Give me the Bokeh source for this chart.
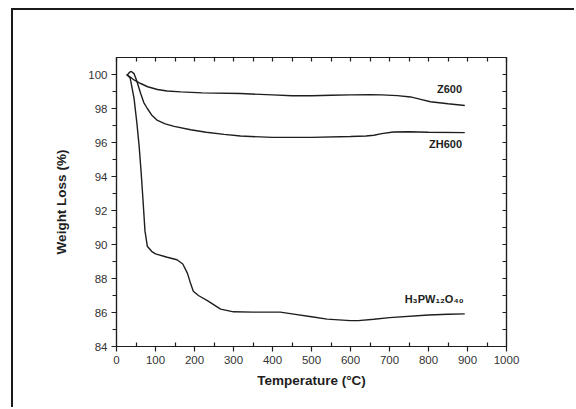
from bokeh.plotting import figure
from bokeh.models import LinearAxis, FixedTicker, Range1d, CustomJSTickFormatter
from bokeh.core.properties import value
from bokeh.embed import file_html
from bokeh.resources import INLINE

# ---- data ----
temp_z600 = [26, 35, 45, 62, 80, 105, 130, 165, 220, 318, 400, 450, 500, 550, 600, 650, 680, 720, 754, 780, 805, 850, 893]
wl_z600 = [100.0, 99.85, 99.68, 99.47, 99.28, 99.12, 99.03, 98.98, 98.92, 98.88, 98.8, 98.75, 98.75, 98.78, 98.8, 98.81, 98.8, 98.76, 98.68, 98.54, 98.4, 98.28, 98.18]

temp_zh600 = [27, 33, 38, 45, 50, 54, 62, 70, 79, 90, 105, 125, 148, 190, 230, 276, 318, 400, 500, 600, 640, 660, 680, 710, 750, 800, 893]
wl_zh600 = [99.95, 100.12, 100.18, 100.05, 99.75, 99.47, 98.88, 98.35, 98.0, 97.62, 97.3, 97.1, 96.95, 96.75, 96.6, 96.48, 96.38, 96.3, 96.3, 96.35, 96.38, 96.43, 96.52, 96.62, 96.63, 96.6, 96.58]

temp_hpw = [26, 35, 45, 52, 58, 63, 68, 73, 79, 90, 100, 130, 155, 170, 182, 190, 197, 210, 233, 267, 300, 350, 420, 450, 500, 540, 600, 620, 660, 700, 800, 850, 893]
wl_hpw = [100.0, 99.8, 98.6, 97.2, 95.8, 94.3, 92.6, 90.8, 89.9, 89.6, 89.45, 89.25, 89.1, 88.85, 88.3, 87.7, 87.25, 87.0, 86.7, 86.2, 86.04, 86.02, 86.02, 85.92, 85.75, 85.61, 85.52, 85.52, 85.6, 85.7, 85.85, 85.9, 85.92]

series_names = ["Z600", "ZH600", "H\u2083PW\u2081\u2082O\u2084\u2080"]

x_major = list(range(0, 1001, 100))
x_minor = list(range(50, 1000, 100))
x_top = list(range(0, 1001, 50))
y_major = list(range(84, 101, 2))
y_minor = list(range(85, 100, 2))
y_right = list(range(84, 101, 1))

# label anchors (layout)
label_x = [886, 886, 890]
label_y = [99.12, 95.93, 86.82]

FONT = "Liberation Sans"
INK = "#1e1e1e"

p = figure(width=563, height=399,
           x_range=Range1d(0, 1000), y_range=Range1d(84, 101),
           output_backend="svg", toolbar_location=None,
           min_border_left=103, min_border_right=70,
           min_border_top=47, min_border_bottom=63)
# outer page frame: only its top and left edges fall inside the window
p.styles = {"margin-left": "11px", "margin-top": "8px",
            "border-top": "2px solid #1a1a1a",
            "border-left": "2px solid #1a1a1a"}

p.xgrid.grid_line_color = None
p.ygrid.grid_line_color = None
p.outline_line_color = INK
p.outline_line_width = 1.2
p.background_fill_color = "white"
p.border_fill_color = "white"

xax = p.below[0]
yax = p.left[0]
for ax in (xax, yax):
    ax.axis_line_color = INK
    ax.axis_line_width = 1.2
    ax.major_tick_line_color = INK
    ax.minor_tick_line_color = INK
    ax.major_tick_line_width = 1.2
    ax.minor_tick_line_width = 1.2
    ax.major_label_text_font = FONT
    ax.major_label_text_font_size = "11.5px"
    ax.major_label_text_color = "#333333"
    ax.axis_label_text_font = FONT
    ax.axis_label_text_font_style = "bold"
    ax.axis_label_text_font_size = "13.5px"
    ax.axis_label_text_color = INK
    ax.major_label_standoff = 4

xax.ticker = FixedTicker(ticks=x_major, minor_ticks=x_minor)
xax.major_tick_out = 5
xax.major_tick_in = 0
xax.minor_tick_in = 4
xax.minor_tick_out = 0
xax.axis_label = "Temperature (°C)"
xax.axis_label_standoff = 6

yax.ticker = FixedTicker(ticks=y_major, minor_ticks=y_minor)
yax.major_tick_out = 5
yax.major_tick_in = 0
yax.minor_tick_out = 4
yax.minor_tick_in = 0
yax.axis_label = "Weight Loss (%)"
yax.axis_label_standoff = 16

blank = CustomJSTickFormatter(code="return '';")
top_ax = LinearAxis(ticker=FixedTicker(ticks=x_top, minor_ticks=[]),
                    formatter=blank,
                    major_tick_in=4, major_tick_out=0,
                    minor_tick_in=0, minor_tick_out=0,
                    major_label_standoff=0,
                    axis_line_color=INK, axis_line_width=1.2,
                    major_tick_line_color=INK, major_tick_line_width=1.2)
right_ax = LinearAxis(ticker=FixedTicker(ticks=y_right, minor_ticks=[]),
                      formatter=blank,
                      major_tick_in=4, major_tick_out=0,
                      minor_tick_in=0, minor_tick_out=0,
                      major_label_standoff=0,
                      axis_line_color=INK, axis_line_width=1.2,
                      major_tick_line_color=INK, major_tick_line_width=1.2)
p.add_layout(top_ax, "above")
p.add_layout(right_ax, "right")

for t, w in ((temp_z600, wl_z600), (temp_zh600, wl_zh600), (temp_hpw, wl_hpw)):
    p.line(t, w, line_color=INK, line_width=1.4)

p.text(x=label_x, y=label_y, text=series_names,
       text_align="right", text_baseline="middle",
       text_font=value(FONT), text_font_style="bold",
       text_font_size="11px", text_color=INK)

open("out.html", "w").write(file_html(p, INLINE))
